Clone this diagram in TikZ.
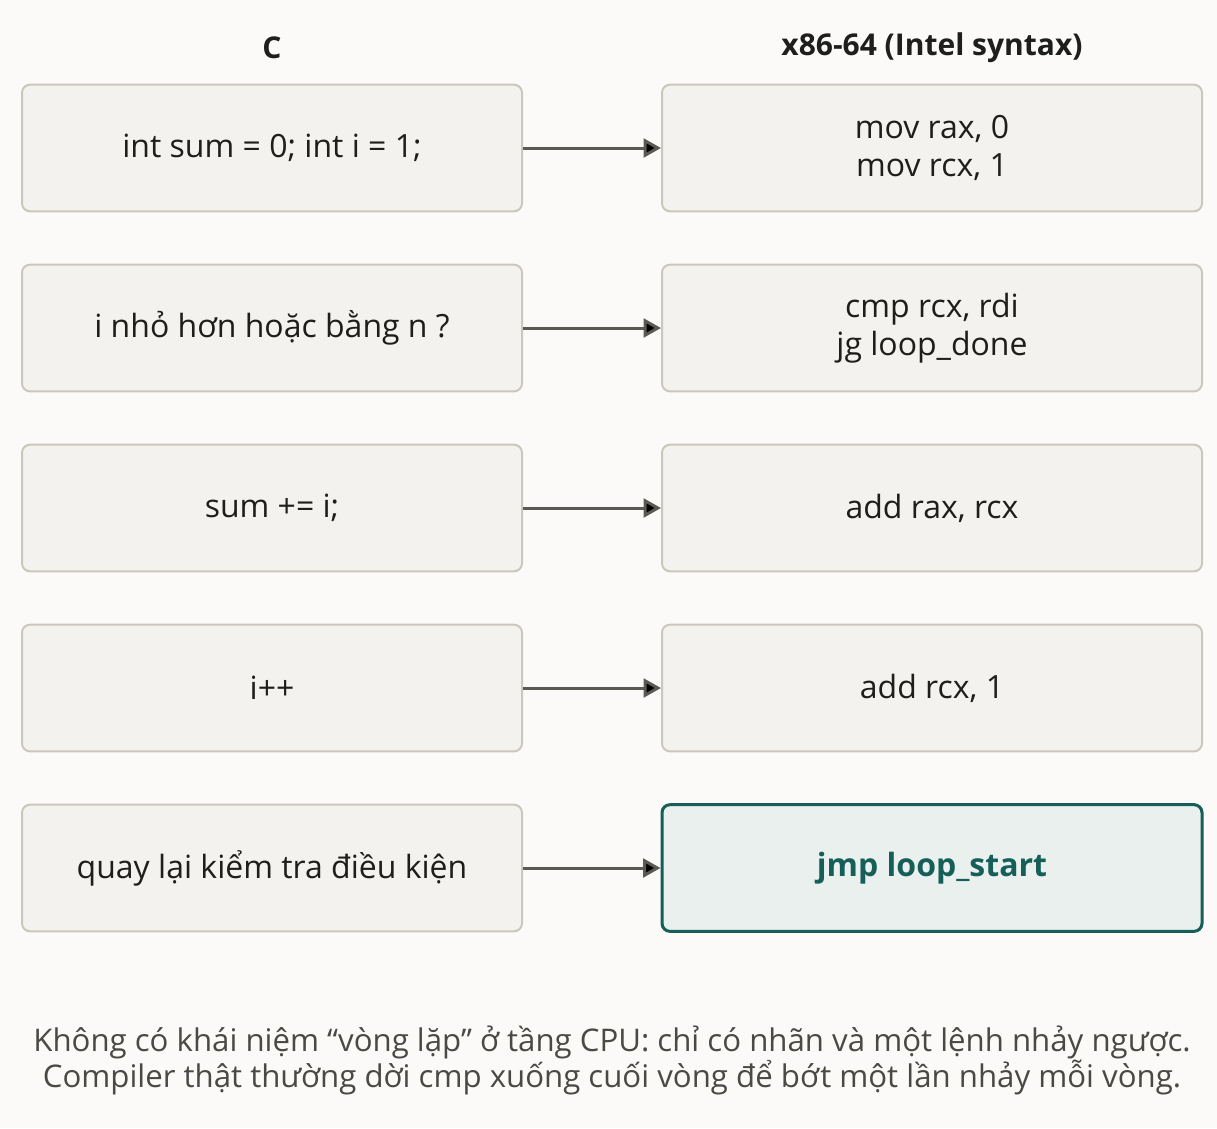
\documentclass[tikz,border=0pt]{standalone}
\usepackage{fontspec}
\setmainfont{Open Sans}
\usetikzlibrary{positioning, arrows.meta}
\definecolor{bgcol}{HTML}{FBFAF8}
\definecolor{boxfill}{HTML}{F3F2EE}
\definecolor{boxline}{HTML}{CBC7BE}
\definecolor{arrowcol}{HTML}{5A5953}
\definecolor{tealline}{HTML}{165E58}
\definecolor{tealfill}{HTML}{E9F0EE}
\definecolor{textcol}{HTML}{1E1E1C}
\definecolor{notecol}{HTML}{4A4944}
\tikzset{
  cbox/.style={draw=boxline, fill=boxfill, line width=1.5pt, rounded corners=6pt,
    minimum width=375pt, minimum height=95pt, align=center, text=textcol,
    font=\fontsize{24}{28.5}\selectfont},
  asmbox/.style={cbox, minimum width=405pt},
  jmpbox/.style={asmbox, draw=tealline, fill=tealfill, line width=2.25pt,
    text=tealline, font=\fontsize{24}{28.5}\selectfont\bfseries},
  header/.style={text=textcol, font=\fontsize{22.5}{26}\selectfont\bfseries},
}
\begin{document}
\begin{tikzpicture}[node distance=135pt and 495pt,on grid]
  \fill[bgcol] (0pt,0pt) rectangle (912.75pt,-846pt);
  \useasboundingbox (0pt,0pt) rectangle (912.75pt,-846pt);

  \node[cbox] (c1) at (204pt,-111pt) {int sum = 0; int i = 1;};
  \node[cbox] (c2) [below=of c1] {i nhỏ hơn hoặc bằng n ?};
  \node[cbox] (c3) [below=of c2] {sum += i;};
  \node[cbox] (c4) [below=of c3] {i++};
  \node[cbox] (c5) [below=of c4] {quay lại kiểm tra điều kiện};

  \node[asmbox] (a1) [right=of c1] {mov rax, 0\\mov rcx, 1};
  \node[asmbox] (a2) [right=of c2] {cmp rcx, rdi\\jg loop\_done};
  \node[asmbox] (a3) [right=of c3] {add rax, rcx};
  \node[asmbox] (a4) [right=of c4] {add rcx, 1};
  \node[jmpbox] (a5) [right=of c5] {jmp loop\_start};

  \node[header] (hc) at (204pt,-36pt) {C};
  \node[header] (hasm) at (699pt,-36pt) {x86-64 (Intel syntax)};

  \path[-{Triangle[length=13pt,width=14pt]}, draw=arrowcol, line width=2.25pt]
    (c1) edge (a1)
    (c2) edge (a2)
    (c3) edge (a3)
    (c4) edge (a4)
    (c5) edge (a5);

  \node[align=center, text=notecol, font=\fontsize{23.4}{27}\selectfont] (note) at (459pt,-795pt)
    {Không có khái niệm “vòng lặp” ở tầng CPU: chỉ có nhãn và một lệnh nhảy ngược.\\
     Compiler thật thường dời cmp xuống cuối vòng để bớt một lần nhảy mỗi vòng.};
\end{tikzpicture}
\end{document}
